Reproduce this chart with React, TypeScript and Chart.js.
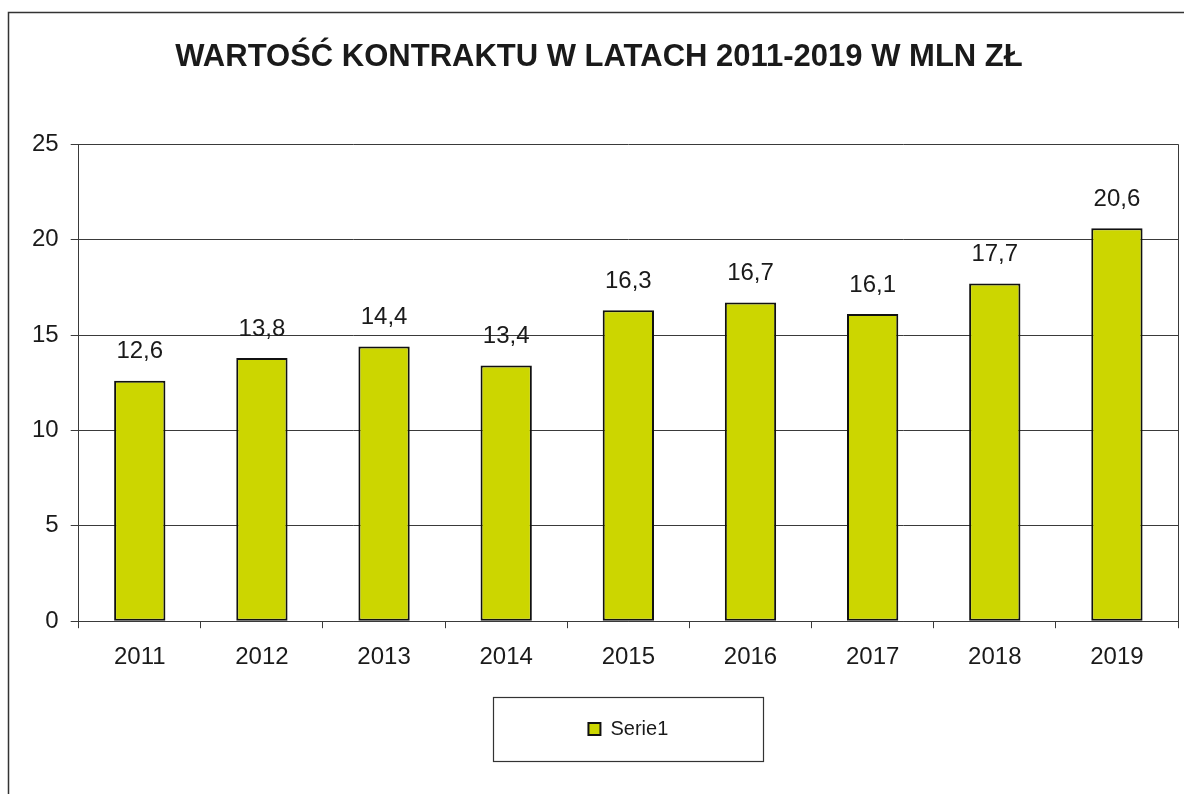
import React, { useEffect, useRef } from 'react';
import { Chart, registerables } from 'chart.js';

Chart.register(...registerables);

const categories = ['2011', '2012', '2013', '2014', '2015', '2016', '2017', '2018', '2019'];
const values = [12.6, 13.8, 14.4, 13.4, 16.3, 16.7, 16.1, 17.7, 20.6];
const seriesName = 'Serie1';
const chartTitle = 'WARTOŚĆ KONTRAKTU W LATACH 2011-2019 W MLN ZŁ';
const yMin = 0;
const yMax = 25;
const yStep = 5;

const FONT = "'Liberation Sans', Arial, sans-serif";
const TEXT = '#1a1a1a';
const LINE = '#3a3a3a';
const BAR = 'rgb(204, 214, 0)';

const fmt = (v: number) => v.toFixed(1).replace('.', ',');

const decorPlugin = {
  id: 'decor',
  beforeDraw(chart: any) {
    const { ctx, width, height } = chart;
    ctx.save();
    ctx.fillStyle = '#ffffff';
    ctx.fillRect(0, 0, width, height);
    ctx.strokeStyle = '#333';
    ctx.lineWidth = 1.5;
    ctx.strokeRect(8.5, 12.5, width + 20, height + 20);
    ctx.restore();
  },
  afterDraw(chart: any) {
    const { ctx, chartArea } = chart;
    ctx.save();
    ctx.strokeStyle = LINE;
    ctx.lineWidth = 1;
    ctx.beginPath();
    ctx.moveTo(Math.round(chartArea.right) + 0.5, chartArea.top);
    ctx.lineTo(Math.round(chartArea.right) + 0.5, chartArea.bottom);
    ctx.stroke();
    const lg = chart.legend;
    if (lg && lg.legendHitBoxes && lg.legendHitBoxes.length) {
      const hb = lg.legendHitBoxes[0];
      const cx = hb.left + hb.width / 2;
      const cy = hb.top + hb.height / 2;
      ctx.strokeStyle = '#333';
      ctx.lineWidth = 1.2;
      ctx.strokeRect(Math.round(cx - 135) + 0.5, Math.round(cy - 32) + 0.5, 270, 64);
    }
    ctx.restore();
  },
};

const labelPlugin = {
  id: 'barLabels',
  afterDatasetsDraw(chart: any) {
    const { ctx } = chart;
    ctx.save();
    ctx.font = `24px ${FONT}`;
    ctx.fillStyle = TEXT;
    ctx.textAlign = 'center';
    ctx.textBaseline = 'middle';
    chart.data.datasets.forEach((ds: any, di: number) => {
      const meta = chart.getDatasetMeta(di);
      meta.data.forEach((bar: any, i: number) => {
        ctx.fillText(fmt(ds.data[i]), bar.x, bar.y - 29);
      });
    });
    ctx.restore();
  },
};

export default function App() {
  const ref = useRef<HTMLCanvasElement | null>(null);

  useEffect(() => {
    if (!ref.current) return;
    const chart = new Chart(ref.current, {
      type: 'bar',
      data: {
        labels: categories,
        datasets: [
          {
            label: seriesName,
            data: values,
            backgroundColor: BAR,
            borderColor: '#111',
            borderWidth: 2,
            borderSkipped: false,
            barPercentage: 0.42,
            categoryPercentage: 1,
          },
        ],
      },
      options: {
        responsive: false,
        animation: false,
        layout: { padding: { top: 0, left: 20, right: 6, bottom: 45 } },
        plugins: {
          title: {
            display: true,
            text: chartTitle,
            color: TEXT,
            font: { family: FONT, size: 31, weight: 'bold' },
            padding: { top: 39, bottom: 68 },
          },
          legend: {
            display: true,
            position: 'bottom',
            fullSize: false,
            title: { display: true, text: ' ', font: { size: 10 }, padding: { top: 10, bottom: 0 } },
            labels: {
              color: TEXT,
              font: { family: FONT, size: 20 },
              boxWidth: 12,
              boxHeight: 12,
              padding: 10,
            },
          },
          tooltip: { enabled: false },
        },
        scales: {
          x: {
            grid: { display: true, drawOnChartArea: false, drawTicks: true, tickLength: 7, color: LINE, offset: true },
            border: { display: true, color: LINE, width: 1 },
            ticks: { color: TEXT, font: { family: FONT, size: 24 }, padding: 15, maxRotation: 0 },
          },
          y: {
            min: yMin,
            max: yMax,
            grid: { color: LINE, lineWidth: 1, tickLength: 8 },
            border: { display: true, color: LINE, width: 1 },
            ticks: { stepSize: yStep, color: TEXT, font: { family: FONT, size: 24 }, padding: 12 },
          },
        },
      },
      plugins: [decorPlugin, labelPlugin],
    });
    return () => chart.destroy();
  }, []);

  return (
    <div style={{ position: 'fixed', left: 0, top: 0, width: 1184, height: 794 }}>
      <canvas ref={ref} width={1184} height={794} style={{ display: 'block' }} />
    </div>
  );
}
